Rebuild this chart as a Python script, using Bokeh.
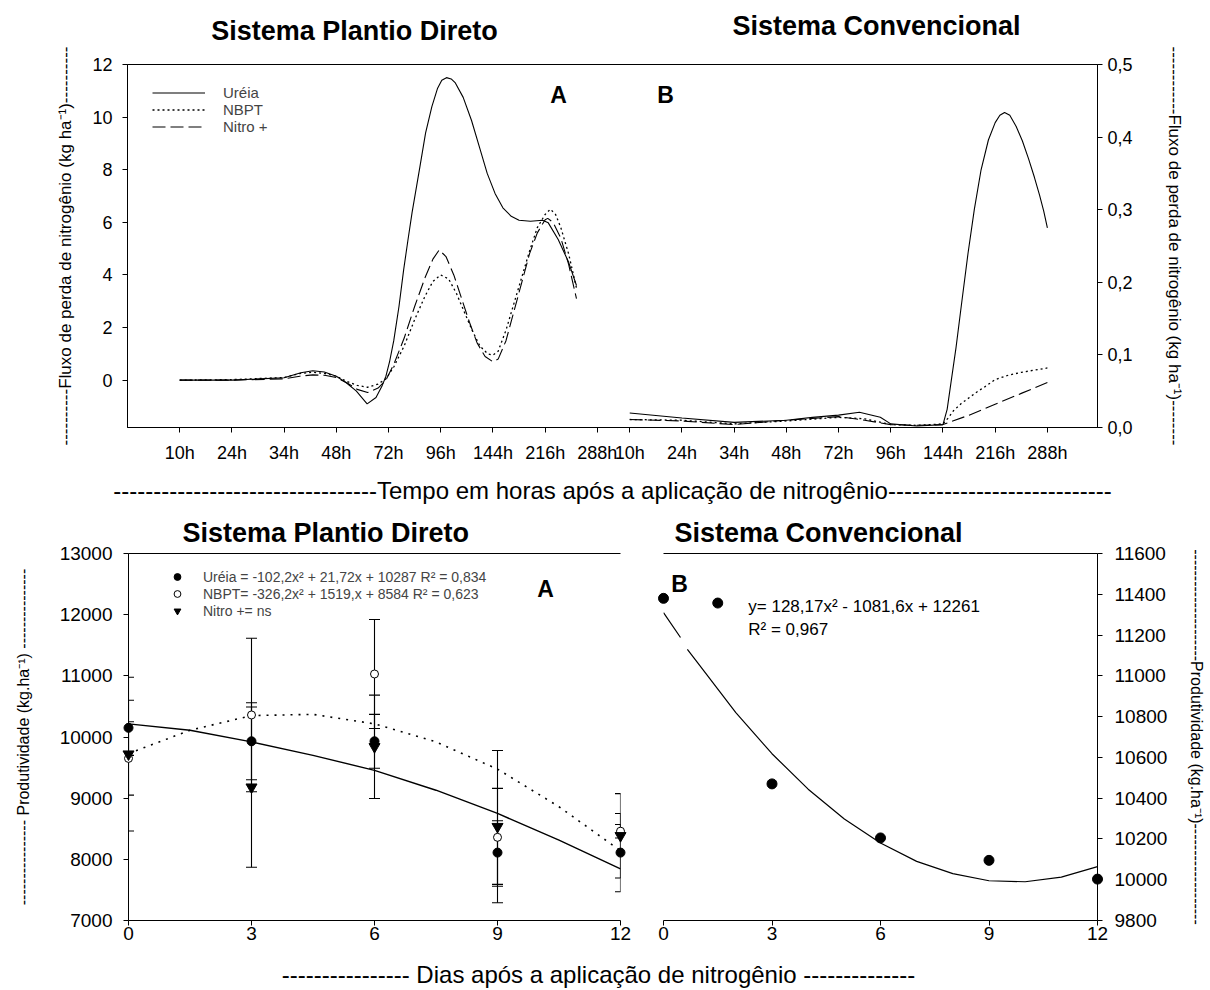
import math
from bokeh.plotting import figure
from bokeh.models import (Range1d, LinearAxis, FixedTicker, Label, Legend, LegendItem,
                          Whisker, TeeHead, ColumnDataSource, Title)
from bokeh.layouts import column, row
from bokeh.embed import file_html
from bokeh.resources import INLINE

FONT = "Liberation Sans"
INK = "black"

# ======================= DATA =======================
hour_labels = ["10h", "24h", "34h", "48h", "72h", "96h", "144h", "216h", "288h"]
flux_ticks = [0, 2, 4, 6, 8, 10, 12]
flux_cv_ticks = [0.0, 0.1, 0.2, 0.3, 0.4, 0.5]
flux_cv_labels = ["0,0", "0,1", "0,2", "0,3", "0,4", "0,5"]

# Sistema Plantio Direto (position on hour axis: 0 = 10h ... 8 = 288h), kg/ha
pd_ureia_pos = [0, 1, 2, 2.32, 2.55, 2.77, 3.0, 3.19, 3.38, 3.59, 3.76, 3.88, 3.95, 4.02, 4.1, 4.2, 4.29,
                4.37, 4.45, 4.6, 4.71, 4.83, 4.94, 5.02, 5.11, 5.2, 5.28, 5.43, 5.59, 5.74, 5.89, 6.04,
                6.19, 6.35, 6.5, 6.72, 6.95, 7.06, 7.25, 7.45, 7.6]
pd_ureia_flux = [0, 0, 0.09, 0.28, 0.36, 0.31, 0.15, -0.1, -0.41, -0.9, -0.66, -0.2, 0.15, 0.7, 1.5, 2.8, 4.2,
                 5.3, 6.36, 8.1, 9.4, 10.4, 11.1, 11.4, 11.5, 11.45, 11.3, 10.75, 9.87, 8.87, 7.86, 7.1,
                 6.55, 6.23, 6.08, 6.04, 6.08, 5.98, 5.35, 4.48, 3.6]
pd_nbpt_pos = [0, 1, 2, 2.3, 2.55, 2.8, 3.0, 3.2, 3.4, 3.6, 3.8, 3.95, 4.1, 4.3, 4.5, 4.7, 4.85, 5.0, 5.15,
               5.3, 5.45, 5.6, 5.75, 5.9, 6.0, 6.1, 6.25, 6.4, 6.55, 6.7, 6.85, 7.0, 7.1, 7.2, 7.3, 7.45, 7.6]
pd_nbpt_flux = [0, 0.02, 0.1, 0.25, 0.3, 0.25, 0.15, -0.05, -0.2, -0.27, -0.15, 0.05, 0.5, 1.3, 2.3, 3.2, 3.75,
                4.0, 3.85, 3.3, 2.6, 1.9, 1.3, 1.0, 0.95, 1.1, 1.9, 2.9, 3.9, 4.9, 5.8, 6.3, 6.5, 6.3, 5.8,
                4.8, 3.5]
pd_nitro_pos = [0, 1, 2, 2.3, 2.55, 2.8, 3.0, 3.2, 3.4, 3.6, 3.8, 3.95, 4.1, 4.3, 4.5, 4.7, 4.85, 4.97, 5.1,
                5.25, 5.4, 5.55, 5.7, 5.85, 6.0, 6.1, 6.25, 6.4, 6.55, 6.7, 6.85, 7.0, 7.05, 7.15, 7.3, 7.45,
                7.6]
pd_nitro_flux = [0, 0, 0.05, 0.15, 0.2, 0.18, 0.1, -0.1, -0.35, -0.47, -0.3, 0.0, 0.6, 1.6, 2.8, 3.9, 4.6,
                 4.95, 4.7, 4.0, 3.1, 2.2, 1.4, 0.9, 0.7, 0.8, 1.5, 2.6, 3.7, 4.8, 5.6, 6.1, 6.15, 6.0, 5.4,
                 4.4, 3.1]

# Sistema Convencional (same hour positions), kg/ha
cv_ureia_pos = [0, 1, 2, 3, 3.5, 4, 4.4, 4.8, 5, 5.5, 6, 6.08, 6.15, 6.25, 6.35, 6.48, 6.6, 6.73, 6.87, 7.0,
                7.09, 7.18, 7.28, 7.4, 7.52, 7.64, 7.75, 7.85, 7.93, 8]
cv_ureia_flux = [0.020, 0.013, 0.007, 0.010, 0.014, 0.017, 0.021, 0.014, 0.005, 0.002, 0.004, 0.025, 0.06,
                 0.11, 0.167, 0.24, 0.30, 0.355, 0.396, 0.42, 0.43, 0.434, 0.43, 0.415, 0.395, 0.37, 0.345,
                 0.32, 0.298, 0.275]
cv_nbpt_pos = [0, 1, 2, 3, 4, 4.5, 5, 5.5, 6, 6.1, 6.2, 6.35, 6.5, 6.65, 6.8, 7, 7.25, 7.5, 7.75, 8]
cv_nbpt_flux = [0.011, 0.010, 0.005, 0.009, 0.014, 0.012, 0.004, 0.003, 0.005, 0.013, 0.023, 0.033, 0.041,
                0.049, 0.056, 0.066, 0.072, 0.076, 0.079, 0.082]
cv_nitro_pos = [0, 1, 2, 3, 4, 4.5, 5, 5.5, 6, 6.5, 7, 7.5, 8]
cv_nitro_flux = [0.011, 0.009, 0.004, 0.010, 0.015, 0.010, 0.004, 0.003, 0.004, 0.017, 0.032, 0.047, 0.062]

# Produtividade - Sistema Plantio Direto (kg/ha)
days = [0, 3, 6, 9, 12]
ureia_prod = [10150, 9930, 9930, 8110, 8110]
ureia_err = [450, 630, 440, 520, 640]
nbpt_prod = [9650, 10360, 11030, 8360, 8460]
nbpt_err = [600, 1255, 890, 800, 110]
nitro_prod = [9720, 9180, 9840, 8535, 8385]
nitro_err = [1256, 1310, 845, 1245, 690]
fit_days = [0, 1.5, 3, 4.5, 6, 7.5, 9, 10.5, 12]
ureia_fit = [10215, 10110, 9920, 9700, 9455, 9130, 8750, 8315, 7845]
nbpt_fit = [9730, 10110, 10350, 10370, 10215, 9920, 9475, 8860, 8140]
prod_ticks_pd = [7000, 8000, 9000, 10000, 11000, 12000, 13000]
day_ticks = [0, 3, 6, 9, 12]

# Produtividade - Sistema Convencional (kg/ha)
cv_days = [0, 1.5, 3, 6, 9, 12]
cv_prod = [11380, 11357, 10470, 10205, 10095, 10003]
cv_fit_days = [0, 0.47, float("nan"), 0.66, 1, 2, 3, 4, 5, 6, 7, 8, 9, 10, 11, 12]
cv_fit = [11310, 11188, float("nan"), 11130, 11051, 10820, 10618, 10444, 10298, 10180, 10090, 10030,
          9995, 9990, 10013, 10064]
prod_ticks_cv = [9800, 10000, 10200, 10400, 10600, 10800, 11000, 11200, 11400, 11600]

# ======================= HELPERS =======================
def style_axis(ax, size="18px", standoff=8, label=None, label_size="17px", label_standoff=10):
    ax.major_label_text_font = FONT
    ax.major_label_text_font_size = size
    ax.major_label_text_color = INK
    ax.axis_line_color = INK
    ax.axis_line_width = 1
    ax.major_tick_line_color = INK
    ax.minor_tick_line_color = None
    ax.major_tick_in = 0
    ax.major_tick_out = 5
    ax.major_label_standoff = standoff
    if label is not None:
        ax.axis_label = label
        ax.axis_label_text_font = FONT
        ax.axis_label_text_font_size = label_size
        ax.axis_label_text_font_style = "normal"
        ax.axis_label_text_color = INK
        ax.axis_label_standoff = label_standoff


def line_only_axis():
    ax = LinearAxis(ticker=FixedTicker(ticks=[]))
    ax.axis_line_color = INK
    ax.major_tick_line_color = None
    ax.minor_tick_line_color = None
    ax.major_tick_out = 0
    ax.major_label_standoff = 0
    ax.major_label_text_font_size = "0px"
    return ax


def add_label(p, x, y, text, size, bold=False, align="center", baseline="middle"):
    p.add_layout(Label(x=x, y=y, text=text, text_font=FONT, text_font_size=size,
                       text_font_style="bold" if bold else "normal", text_color=INK,
                       text_align=align, text_baseline=baseline))


# frames in a column are aligned with the top chart's frame (page x 127..1097)
FL, FR = 127, 1097


def text_strip(height, y0):
    """A blank strip whose data coordinates are page pixels (for titles / captions)."""
    p = figure(width=1208, height=height, x_range=Range1d(FL, FR), y_range=Range1d(y0 + height, y0),
               output_backend="svg", toolbar_location=None, x_axis_type=None, y_axis_type=None,
               min_border_left=FL, min_border_right=1208 - FR, min_border_top=0, min_border_bottom=0)
    p.grid.visible = False
    p.outline_line_color = None
    return p


# ======================= HEADER (top titles) =======================
head = text_strip(46, 0)
add_label(head, 354, 30, "Sistema Plantio Direto", "27px", bold=True)
add_label(head, 876, 25, "Sistema Convencional", "27px", bold=True)

# ======================= TOP FIGURE =======================
XR = (-1.0, 17.58)
YR = (-1.8, 12.0)
YR2 = (0.0, 0.5)
OFFSET = 8.62
FT, FW, FH = 64, FR - FL, 365


def top_xy(px, py):
    return (XR[0] + (px - FL) * (XR[1] - XR[0]) / FW,
            YR[1] - (py - FT) * (YR[1] - YR[0]) / FH)


top = figure(width=1208, height=460, x_range=Range1d(*XR), y_range=Range1d(*YR),
             output_backend="svg", toolbar_location=None,
             x_axis_type=None, y_axis_type=None,
             min_border_left=FL, min_border_right=1208 - FR, min_border_top=18, min_border_bottom=77)
top.extra_y_ranges = {"cv": Range1d(*YR2)}
top.grid.visible = False
top.outline_line_color = INK
top.outline_line_width = 1

xt = [round(i, 3) for i in range(9)] + [round(OFFSET + i, 3) for i in range(9)]
xax = LinearAxis(ticker=FixedTicker(ticks=xt),
                 major_label_overrides={t: lab for t, lab in zip(xt, hour_labels * 2)})
style_axis(xax, "18px", 10,
           label="-" * 33 + "Tempo em horas após a aplicação de nitrogênio" + "-" * 28,
           label_size="24px", label_standoff=11)
top.add_layout(xax, "below")
yax = LinearAxis(ticker=FixedTicker(ticks=flux_ticks))
style_axis(yax, "18px", 10,
           label="-" * 10 + "Fluxo de perda de nitrogênio (kg ha⁻¹)" + "-" * 10,
           label_size="17px", label_standoff=14)
top.add_layout(yax, "left")
yax2 = LinearAxis(y_range_name="cv", ticker=FixedTicker(ticks=flux_cv_ticks),
                  major_label_overrides=dict(zip(flux_cv_ticks, flux_cv_labels)))
style_axis(yax2, "18px", 5,
           label="-" * 12 + "Fluxo de perda de nitrogênio (kg ha⁻¹)" + "-" * 8,
           label_size="17px", label_standoff=29)
top.add_layout(yax2, "right")

DOT = "2 3"
DASH = "13 5"
r_u = top.line(pd_ureia_pos, pd_ureia_flux, line_color=INK, line_width=1.1)
r_n = top.line(pd_nbpt_pos, pd_nbpt_flux, line_color=INK, line_width=1.3, line_dash=DOT)
r_x = top.line(pd_nitro_pos, pd_nitro_flux, line_color=INK, line_width=1.1, line_dash=DASH)
top.line([OFFSET + v for v in cv_ureia_pos], cv_ureia_flux, y_range_name="cv",
         line_color=INK, line_width=1.1)
top.line([OFFSET + v for v in cv_nbpt_pos], cv_nbpt_flux, y_range_name="cv",
         line_color=INK, line_width=1.3, line_dash=DOT)
top.line([OFFSET + v for v in cv_nitro_pos], cv_nitro_flux, y_range_name="cv",
         line_color=INK, line_width=1.1, line_dash=DASH)

leg_top = Legend(items=[LegendItem(label="Uréia", renderers=[r_u]),
                        LegendItem(label="NBPT", renderers=[r_n]),
                        LegendItem(label="Nitro +", renderers=[r_x])],
                 location=(25, 292), padding=0, margin=0, spacing=0,
                 glyph_width=53, glyph_height=17, label_height=17, label_standoff=18,
                 label_text_font=FONT, label_text_font_size="15px",
                 border_line_color=None, background_fill_alpha=0)
top.add_layout(leg_top)

add_label(top, *top_xy(558, 95), "A", "23px", bold=True)
add_label(top, *top_xy(665, 95), "B", "23px", bold=True)


def panel_title(text, offset):
    return Title(text=text, align="left", offset=offset, standoff=12, text_font=FONT,
                 text_font_size="27px", text_font_style="bold", text_color=INK)


# ======================= BOTTOM LEFT =======================
bl = figure(width=641, height=444, x_range=Range1d(0, 12), y_range=Range1d(7000, 13000),
            output_backend="svg", toolbar_location=None, x_axis_type=None, y_axis_type=None,
            title=panel_title("Sistema Plantio Direto", 54),
            min_border_left=128, min_border_right=21, min_border_top=47, min_border_bottom=30)
bl.grid.visible = False
bl.outline_line_color = None
ax = LinearAxis(ticker=FixedTicker(ticks=day_ticks))
style_axis(ax, "19px", 1)
bl.add_layout(ax, "below")
ax = LinearAxis(ticker=FixedTicker(ticks=prod_ticks_pd))
style_axis(ax, "19px", 11, label="-" * 16 + " Produtividade (kg.ha⁻¹) " + "-" * 15,
           label_size="16px", label_standoff=25)
bl.add_layout(ax, "left")
bl.add_layout(line_only_axis(), "above")

bl.line(fit_days, ureia_fit, line_color=INK, line_width=1.4)
bl.line(fit_days, nbpt_fit, line_color=INK, line_width=1.6, line_dash="2 6")

for vals, errs in ((ureia_prod, ureia_err), (nbpt_prod, nbpt_err), (nitro_prod, nitro_err)):
    src = ColumnDataSource(dict(x=days, up=[v + e for v, e in zip(vals, errs)],
                                lo=[v - e for v, e in zip(vals, errs)]))
    bl.add_layout(Whisker(source=src, base="x", upper="up", lower="lo", level="annotation",
                          line_color=INK, line_width=1.1,
                          upper_head=TeeHead(size=11, line_color=INK, line_width=1.1),
                          lower_head=TeeHead(size=11, line_color=INK, line_width=1.1)))

s_u = bl.scatter(days, ureia_prod, marker="circle", size=9, fill_color=INK, line_color=INK, level="overlay")
s_n = bl.scatter(days, nbpt_prod, marker="circle", size=8, fill_color="white", line_color=INK, level="overlay")
s_x = bl.scatter(days, nitro_prod, marker="inverted_triangle", size=11, fill_color=INK, line_color=INK,
                 level="overlay")

leg_bl = Legend(items=[LegendItem(label="Uréia = -102,2x² + 21,72x + 10287 R² = 0,834", renderers=[s_u]),
                       LegendItem(label="NBPT= -326,2x² + 1519,x + 8584 R² = 0,623", renderers=[s_n]),
                       LegendItem(label="Nitro += ns", renderers=[s_x])],
                location=(38, 301), padding=0, margin=0, spacing=0,
                glyph_width=22, glyph_height=17, label_height=17, label_standoff=15,
                label_text_font=FONT, label_text_font_size="14px",
                border_line_color=None, background_fill_alpha=0)
bl.add_layout(leg_bl)


def bl_xy(px, py):
    return (px - 128) * 12 / 492, 13000 - (py - 553) * 6000 / 367


add_label(bl, *bl_xy(545, 588), "A", "23px", bold=True)

# ======================= BOTTOM RIGHT =======================
br = figure(width=567, height=444, x_range=Range1d(0, 12), y_range=Range1d(9800, 11600),
            output_backend="svg", toolbar_location=None, x_axis_type=None, y_axis_type=None,
            title=panel_title("Sistema Convencional", 11),
            min_border_left=22, min_border_right=110, min_border_top=47, min_border_bottom=30)
br.grid.visible = False
br.outline_line_color = None
ax = LinearAxis(ticker=FixedTicker(ticks=day_ticks))
style_axis(ax, "19px", 1)
br.add_layout(ax, "below")
ax = LinearAxis(ticker=FixedTicker(ticks=prod_ticks_cv))
style_axis(ax, "19px", 12, label="-" * 21 + "Produtividade (kg.ha⁻¹)" + "-" * 19,
           label_size="16px", label_standoff=18)
br.add_layout(ax, "right")
br.add_layout(line_only_axis(), "above")

br.line(cv_fit_days, cv_fit, line_color=INK, line_width=1.2)
br.scatter(cv_days, cv_prod, marker="circle", size=10, fill_color=INK, line_color=INK, level="overlay")


def br_xy(px, py):
    return (px - 663) * 12 / 435, 11600 - (py - 553) * 1800 / 367


add_label(br, *br_xy(679, 583), "B", "23px", bold=True)
add_label(br, *br_xy(748, 606), "y= 128,17x² - 1081,6x + 12261", "17px", align="left")
add_label(br, *br_xy(748, 629), "R² = 0,967", "17px", align="left")

# ======================= BOTTOM CAPTION =======================
cap = text_strip(38, 950)
add_label(cap, 598, 974, "---------------- Dias após a aplicação de nitrogênio --------------", "24px")

layout = column(head, top, row(bl, br, spacing=0), cap, spacing=0)
open("out.html", "w").write(file_html(layout, INLINE))
